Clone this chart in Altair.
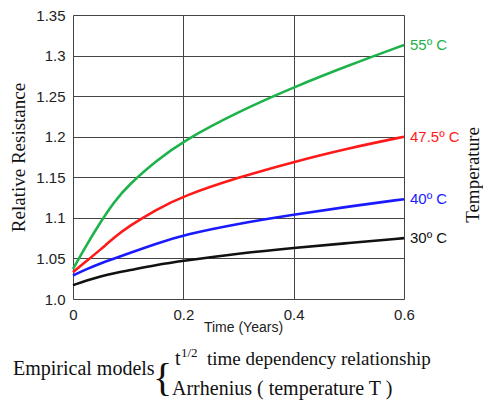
import altair as alt
import pandas as pd

t_years = [0, 0.025, 0.05, 0.075, 0.1, 0.15, 0.2, 0.3, 0.4, 0.5, 0.6]
r_55 = [1.037, 1.067, 1.095, 1.120, 1.140, 1.170, 1.195, 1.231, 1.261, 1.288, 1.313]
r_475 = [1.033, 1.047, 1.061, 1.076, 1.089, 1.110, 1.127, 1.150, 1.169, 1.186, 1.200]
r_40 = [1.029, 1.037, 1.044, 1.050, 1.056, 1.068, 1.079, 1.093, 1.104, 1.114, 1.123]
r_30 = [1.017, 1.023, 1.028, 1.032, 1.035, 1.042, 1.047, 1.056, 1.063, 1.069, 1.075]
series_names = ["55º C", "47.5º C", "40º C", "30º C"]
series_colors = ["#1db24a", "#ff1a1a", "#1a1aff", "#111111"]
y_ticks = [1.0, 1.05, 1.1, 1.15, 1.2, 1.25, 1.3, 1.35]
x_ticks = [0, 0.2, 0.4, 0.6]

rows = []
for name, vals in zip(series_names, [r_55, r_475, r_40, r_30]):
    for t, v in zip(t_years, vals):
        rows.append({"t": t, "r": v, "series": name})
df = pd.DataFrame(rows)
ends = df[df["t"] == 0.6]

W, H = 331, 284
xs = alt.Scale(domain=[0, 0.6], nice=False, zero=False)
ys = alt.Scale(domain=[1.0, 1.35], nice=False, zero=False)
cs = alt.Scale(domain=series_names, range=series_colors)

lines = alt.Chart(df).mark_line(strokeWidth=2.6, interpolate="basis").encode(
    x=alt.X("t:Q", scale=xs, axis=alt.Axis(
        values=x_ticks, ticks=False, domain=False, labelFontSize=15, labelFont="Liberation Sans",
        labelColor="#222", labelPadding=8, gridColor="#444", gridOpacity=1, gridWidth=1,
        title="Time (Years)", titleFont="Liberation Sans", titleFontSize=14, titleFontWeight="normal",
        titleColor="#222", titleX=170, titleY=28, titleBaseline="middle", titleAlign="center",
        labelExpr="datum.value == 0 ? '0' : format(datum.value, '.1f')",
        labelFlush=False, labelOverlap=False,
    )),
    y=alt.Y("r:Q", scale=ys, axis=alt.Axis(
        values=y_ticks, ticks=False, domain=False, labelFontSize=15, labelFont="Liberation Sans",
        labelColor="#222", labelPadding=8, gridColor="#444", gridOpacity=1, gridWidth=1,
        title="Relative Resistance", titleFont="Liberation Serif", titleFontSize=19,
        titleFontWeight="normal", titleColor="#111", titleAngle=-90, titleX=-55, titleY=142,
        titleBaseline="middle", titleAlign="center",
        labelExpr="datum.value == 1 ? '1.0' : format(datum.value, '.2~f')",
        labelFlush=False, labelOverlap=False,
    )),
    color=alt.Color("series:N", scale=cs, legend=None),
    detail="series:N",
)

labels = alt.Chart(ends).mark_text(align="left", baseline="middle", dx=6, fontSize=15,
                                   font="Liberation Sans").encode(
    x=alt.X("t:Q", scale=xs), y=alt.Y("r:Q", scale=ys),
    text="series:N",
    color=alt.Color("series:N", scale=cs, legend=None),
)

blank = alt.Data(values=[{}])
def note(txt, x, y, size, font="Liberation Serif", align="left", baseline="alphabetic", angle=0):
    return alt.Chart(blank).mark_text(align=align, baseline=baseline, fontSize=size, font=font,
                                       color="#111", angle=angle).encode(
        x=alt.value(x), y=alt.value(y), text=alt.value(txt))

notes = [
    note("Temperature", 400, 160, 19, baseline="middle", align="center", angle=270),
    note("Empirical models", -60, 360, 20),
    note("{", 80, 364, 40, baseline="middle"),
    note("t", 102, 350, 20),
    note("1/2", 108, 342, 13),
    note("time dependency relationship", 134, 350, 19),
    note("Arrhenius ( temperature T )", 99, 380, 20),
]

chart = alt.layer(lines, labels, *notes).properties(
    width=W, height=H,
    autosize=alt.AutoSizeParams(type="none"),
    padding={"left": 73, "top": 15, "right": 79, "bottom": 101},
).configure_view(stroke="#444", strokeWidth=1).configure(background="white")

chart.save("out.html", embed_options={"renderer": "svg", "actions": False})
